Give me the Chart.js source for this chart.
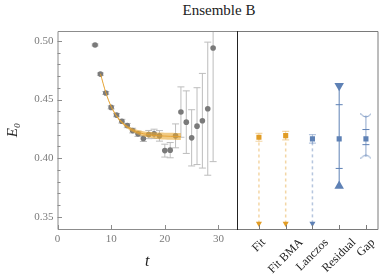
<!DOCTYPE html>
<html>
<head>
<meta charset="utf-8">
<script src="https://cdn.jsdelivr.net/npm/chart.js@4"></script>
<style>
  html, body { margin: 0; padding: 0; background: #fff; }
  #wrap { position: relative; width: 381px; height: 278px; overflow: hidden; }
  #title { position: absolute; left: 58px; width: 322px; top: 2px; text-align: center;
           font: 15px "Liberation Serif", serif; color: #222; }
  #cLeft { position: absolute; left: 0; top: 0; }
  #cRight { position: absolute; left: 237px; top: 0; }
</style>
</head>
<body>
<div id="wrap">
  <div id="title">Ensemble B</div>
  <canvas id="cLeft" width="237" height="278"></canvas>
  <canvas id="cRight" width="144" height="278"></canvas>
</div>
<script>
// ===============================
// data
// ===============================
const tVals = [7, 8, 9, 10, 11, 12, 13, 14, 15, 16, 17, 18, 19, 20, 21, 22, 23, 24, 25, 26, 27, 28, 29];
const eVals = [0.4966, 0.4717, 0.4556, 0.4433, 0.4367, 0.4315, 0.4278, 0.4235, 0.4207, 0.4167, 0.4201, 0.4207,
               0.4190, 0.4064, 0.4068, 0.4190, 0.4393, 0.4307, 0.4173, 0.4273, 0.4319, 0.4422, 0.4940];
const eErrs = [0.0008, 0.0010, 0.0012, 0.0013, 0.0014, 0.0016, 0.0018, 0.0020, 0.0022, 0.0025, 0.0035, 0.0040,
               0.0045, 0.0055, 0.0065, 0.0102, 0.0215, 0.0267, 0.0240, 0.0328, 0.0404, 0.0568, 0.0970];

// fit band (centre and half width)
const fitT = [8, 9, 10, 11, 12, 13, 14, 15, 16, 17, 18, 19, 20, 21, 22, 23];
const fitMid = [0.4720, 0.4560, 0.4440, 0.4360, 0.4305, 0.4265, 0.4238, 0.4220, 0.4208, 0.4200, 0.4194,
                0.4190, 0.4188, 0.4186, 0.4185, 0.4184];
const fitHalf = [0.0004, 0.0005, 0.0006, 0.0008, 0.0010, 0.0013, 0.0016, 0.0019, 0.0022, 0.0024, 0.0026,
                 0.0028, 0.0029, 0.0030, 0.0030, 0.0030];

// right panel: estimates
const catLabels = ["Fit", "Fit BMA", "Lanczos", "Residual", "Gap"];
const catPos = [1, 2, 3, 4, 5];
const estVals = [0.4178, 0.4192, 0.4164, 0.4164, 0.4164];
const estLo = [0.4144, 0.4156, 0.4128, 0.3912, 0.4115];
const estHi = [0.4212, 0.4228, 0.4200, 0.4456, 0.4244];
const arrowVals = [0.3443, 0.3443, 0.3443];      // Fit, Fit BMA, Lanczos -> down arrows
const boundLo = [0.3763, 0.4012];                 // Residual, Gap
const boundHi = [0.4618, 0.4364];

// ticks
const xTickVals = [0, 10, 20, 30];
const yMajor = [0.35, 0.40, 0.45, 0.50];
const yMinor = [0.36, 0.37, 0.38, 0.39, 0.41, 0.42, 0.43, 0.44, 0.46, 0.47, 0.48, 0.49];

const Y_MIN = 0.3395, Y_MAX = 0.5085;

const ORANGE = "#E19C24", ORANGE_LT = "rgba(229,165,55,0.45)";
const BLUE = "#5E81B5", BLUE_LT = "rgba(94,129,181,0.45)";
const SERIF = '"Liberation Serif", serif';

// helpers: vertical segments split by nulls
function segs(xs, lo, hi) {
    const out = [];
    xs.forEach((x, i) => { out.push({x: x, y: lo[i]}, {x: x, y: hi[i]}, {x: x, y: null}); });
    return out;
}
function pts(xs, ys) {
    return xs.map((x, i) => ({x: x, y: ys[i]}));
}
function braceCap(up) {
    const c = document.createElement("canvas");
    c.width = 11; c.height = 5;
    const g = c.getContext("2d");
    g.strokeStyle = BLUE; g.globalAlpha = 0.8; g.lineWidth = 1;
    g.beginPath();
    if (up) { g.moveTo(0, 0.5); g.quadraticCurveTo(3, 4, 5.5, 4); g.quadraticCurveTo(8, 4, 11, 0.5); }
    else { g.moveTo(0, 4.5); g.quadraticCurveTo(3, 1, 5.5, 1); g.quadraticCurveTo(8, 1, 11, 4.5); }
    g.stroke();
    return c;
}

// ===============================
// frame + inward ticks
// ===============================
const leftFrame = {
    id: "leftFrame",
    afterDraw(chart) {
        const {ctx, chartArea: a, scales} = chart;
        ctx.save();
        ctx.strokeStyle = "#8c8c8c";
        ctx.lineWidth = 1;
        ctx.beginPath();
        ctx.moveTo(a.right, a.top + 0.5); ctx.lineTo(a.left + 0.5, a.top + 0.5);
        ctx.lineTo(a.left + 0.5, a.bottom + 0.5); ctx.lineTo(a.right, a.bottom + 0.5);
        yMajor.concat(yMinor).forEach(v => {
            const py = Math.round(scales.y.getPixelForValue(v)) + 0.5;
            const len = yMajor.includes(v) ? 4 : 2.5;
            ctx.moveTo(a.left, py); ctx.lineTo(a.left + 0.5 + len, py);
        });
        xTickVals.forEach(v => {
            const px = Math.round(scales.x.getPixelForValue(v)) + 0.5;
            ctx.moveTo(px, a.bottom); ctx.lineTo(px, a.bottom - 4);
        });
        ctx.stroke();
        ctx.restore();
    }
};

const rightFrame = {
    id: "rightFrame",
    afterDraw(chart) {
        const {ctx, chartArea: a, scales} = chart;
        ctx.save();
        ctx.lineWidth = 1;
        ctx.strokeStyle = "#7a7a7a";
        ctx.beginPath();
        ctx.moveTo(a.left, a.top + 0.5); ctx.lineTo(a.right - 0.5, a.top + 0.5);
        ctx.lineTo(a.right - 0.5, a.bottom + 0.5); ctx.lineTo(a.left, a.bottom + 0.5);
        catPos.forEach(v => {
            const px = Math.round(scales.x.getPixelForValue(v)) + 0.5;
            ctx.moveTo(px, a.bottom); ctx.lineTo(px, a.bottom - 4);
        });
        ctx.stroke();
        ctx.strokeStyle = "#222";
        ctx.beginPath();
        ctx.moveTo(a.left + 0.5, a.top); ctx.lineTo(a.left + 0.5, a.bottom + 1);
        ctx.stroke();

        // rotated category labels, centred under each tick
        ctx.font = "12px " + SERIF;
        ctx.fillStyle = "#222";
        ctx.textAlign = "center";
        ctx.textBaseline = "middle";
        catPos.forEach((v, i) => {
            const px = scales.x.getPixelForValue(v);
            const w = ctx.measureText(catLabels[i]).width;
            const d = (w + 9) * Math.SQRT1_2 / 2;
            ctx.save();
            ctx.translate(px, 237.5 + d);
            ctx.rotate(-Math.PI / 4);
            ctx.fillText(catLabels[i], 0, 0);
            ctx.restore();
        });
        ctx.restore();
    }
};

// ===============================
// left chart: E0 vs t
// ===============================
const eLo = eVals.map((v, i) => v - eErrs[i]);
const eHi = eVals.map((v, i) => v + eErrs[i]);

new Chart(document.getElementById("cLeft"), {
    type: "scatter",
    data: {
        datasets: [
            { type: "line", data: pts(fitT, fitMid.map((v, i) => v + fitHalf[i])), fill: "+1",
              backgroundColor: "rgba(232,166,48,0.6)", borderWidth: 0, pointRadius: 0,
              cubicInterpolationMode: "monotone", order: 0 },
            { type: "line", data: pts(fitT, fitMid.map((v, i) => v - fitHalf[i])), fill: false,
              borderWidth: 0, pointRadius: 0, cubicInterpolationMode: "monotone", order: 0 },
            { type: "line", data: pts(fitT, fitMid), borderColor: "rgba(228,160,45,0.9)", borderWidth: 1,
              pointRadius: 0, cubicInterpolationMode: "monotone", order: -1 },
            { type: "line", data: segs(tVals, eLo, eHi), borderColor: "#bdbdbd", borderWidth: 1,
              pointRadius: 0, spanGaps: false, order: 3 },
            { data: pts(tVals, eLo).concat(pts(tVals, eHi)), pointStyle: "line", pointRadius: 3.5,
              borderColor: "#bdbdbd", borderWidth: 1, order: 3 },
            { data: pts(tVals, eVals), backgroundColor: "#7a7a7a", borderWidth: 0, pointRadius: 2.8, order: 2 }
        ]
    },
    options: {
        responsive: false,
        animation: false,
        events: [],
        layout: { autoPadding: false, padding: { top: 31, right: 0, left: 0, bottom: 0 } },
        plugins: { legend: { display: false }, tooltip: { enabled: false } },
        scales: {
            x: {
                type: "linear", min: 0, max: 33.45,
                afterBuildTicks: s => { s.ticks = xTickVals.map(v => ({value: v})); },
                afterFit: s => { s.height = 49; },
                grid: { display: false, drawTicks: false },
                border: { display: false },
                ticks: { color: "#7a7a7a", font: { family: SERIF, size: 11 }, padding: 4, maxRotation: 0 },
                title: { display: true, text: "t", color: "#222",
                         font: { family: SERIF, size: 16, style: "italic" }, padding: { top: 0, bottom: 7 } }
            },
            y: {
                min: Y_MIN, max: Y_MAX,
                afterBuildTicks: s => { s.ticks = yMajor.map(v => ({value: v})); },
                afterFit: s => { s.width = 57.5; },
                grid: { display: false, drawTicks: false },
                border: { display: false },
                ticks: { color: "#7a7a7a", font: { family: SERIF, size: 11 }, padding: 4,
                         callback: v => v.toFixed(2) },
                title: { display: true, text: "E₀", color: "#222",
                         font: { family: SERIF, size: 15, style: "italic" }, padding: { top: 4, bottom: 0 } }
            }
        }
    },
    plugins: [leftFrame]
});

// ===============================
// right chart: estimates
// ===============================
const arrowPos = catPos.slice(0, 3);

new Chart(document.getElementById("cRight"), {
    type: "scatter",
    data: {
        datasets: [
            // dashed arrows down
            { type: "line", data: segs(arrowPos.slice(0, 2), arrowVals.slice(0, 2), estVals.slice(0, 2)),
              borderColor: ORANGE_LT, borderWidth: 1.5, borderDash: [3, 3], pointRadius: 0, order: 5 },
            { type: "line", data: segs([3], [arrowVals[2]], [estVals[2]]),
              borderColor: BLUE_LT, borderWidth: 1.5, borderDash: [3, 3], pointRadius: 0, order: 5 },
            { data: pts(arrowPos.slice(0, 2), arrowVals.slice(0, 2)), pointStyle: "triangle", rotation: 180,
              pointRadius: 3.5, backgroundColor: ORANGE, borderWidth: 0, order: 4 },
            { data: pts([3], [arrowVals[2]]), pointStyle: "triangle", rotation: 180,
              pointRadius: 3.5, backgroundColor: BLUE, borderWidth: 0, order: 4 },

            // small error bars for Fit, Fit BMA, Lanczos
            { type: "line", data: segs(arrowPos.slice(0, 2), estLo.slice(0, 2), estHi.slice(0, 2)),
              borderColor: ORANGE_LT, borderWidth: 1, pointRadius: 0, order: 3 },
            { data: pts(arrowPos.slice(0, 2), estLo.slice(0, 2)).concat(pts(arrowPos.slice(0, 2), estHi.slice(0, 2))),
              pointStyle: "line", pointRadius: 3.5, borderColor: ORANGE_LT, borderWidth: 1.2, order: 3 },
            { type: "line", data: segs([3], [estLo[2]], [estHi[2]]),
              borderColor: BLUE_LT, borderWidth: 1, pointRadius: 0, order: 3 },
            { data: [{x: 3, y: estLo[2]}, {x: 3, y: estHi[2]}],
              pointStyle: "line", pointRadius: 3.5, borderColor: BLUE_LT, borderWidth: 1.2, order: 3 },

            // Residual: bound line with triangles, inner caps
            { type: "line", data: segs([4], [boundLo[0]], [boundHi[0]]),
              borderColor: BLUE, borderWidth: 1, pointRadius: 0, order: 3 },
            { data: [{x: 4, y: boundHi[0]}], pointStyle: "triangle", rotation: 180,
              pointRadius: 5.5, backgroundColor: BLUE, borderWidth: 0, order: 2 },
            { data: [{x: 4, y: boundLo[0]}], pointStyle: "triangle",
              pointRadius: 5.5, backgroundColor: BLUE, borderWidth: 0, order: 2 },
            { data: [{x: 4, y: estLo[3]}, {x: 4, y: estHi[3]}],
              pointStyle: "line", pointRadius: 3.5, borderColor: BLUE, borderWidth: 1, order: 2 },

            // Gap: outer range with brace caps, inner caps
            { type: "line", data: segs([5], [boundLo[1]], [boundHi[1]]),
              borderColor: "rgba(94,129,181,0.7)", borderWidth: 1, pointRadius: 0, order: 3 },
            { data: [{x: 5, y: boundHi[1]}], pointStyle: braceCap(true), order: 2 },
            { data: [{x: 5, y: boundLo[1]}], pointStyle: braceCap(false), order: 2 },
            { data: [{x: 5, y: estLo[4]}, {x: 5, y: estHi[4]}],
              pointStyle: "line", pointRadius: 3.5, borderColor: BLUE, borderWidth: 1, order: 2 },

            // central squares
            { data: pts(arrowPos.slice(0, 2), estVals.slice(0, 2)), pointStyle: "rect", pointRadius: 3.6,
              backgroundColor: ORANGE, borderWidth: 0, order: 0 },
            { data: pts(catPos.slice(2), estVals.slice(2)), pointStyle: "rect", pointRadius: 3.6,
              backgroundColor: BLUE, borderWidth: 0, order: 0 }
        ]
    },
    options: {
        responsive: false,
        animation: false,
        events: [],
        layout: { autoPadding: false, padding: { top: 31, right: 2.5, left: 0, bottom: 0 } },
        plugins: { legend: { display: false }, tooltip: { enabled: false } },
        scales: {
            x: {
                type: "linear", min: 0.18, max: 5.47,
                afterFit: s => { s.height = 49; },
                grid: { display: false, drawTicks: false },
                border: { display: false },
                ticks: { display: false }
            },
            y: { display: false, min: Y_MIN, max: Y_MAX }
        }
    },
    plugins: [rightFrame]
});
</script>
</body>
</html>
